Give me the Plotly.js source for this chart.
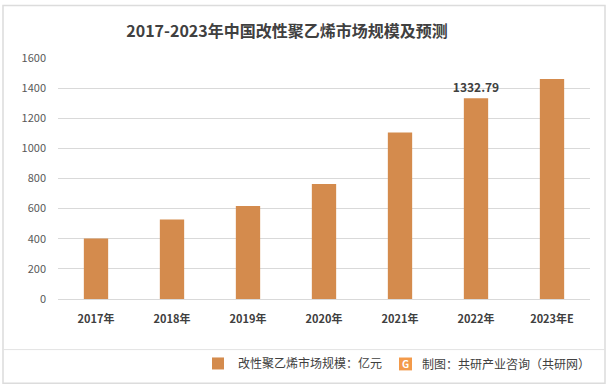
<!DOCTYPE html>
<html><head><meta charset="utf-8">
<script src="https://cdn.plot.ly/plotly-3.0.1.min.js"></script>
<style>html,body{margin:0;padding:0;background:#fff}</style>
</head><body><div id="chart" style="width:614px;height:390px"></div>
<script>
const categories = ["2017年","2018年","2019年","2020年","2021年","2022年","2023年E"];
const values = [401, 527, 618, 763, 1105, 1332.79, 1460];
const labels = ["", "", "", "", "", "1332.79", ""];
const seriesName = "改性聚乙烯市场规模：亿元";
const titleText = "2017-2023年中国改性聚乙烯市场规模及预测";
const sourceText = "制图：共研产业咨询（共研网）";

const W = 614, H = 390, L = 58, R = 24, T = 58, B = 89;
const pw = W - L - R, ph = H - T - B;
const px = x => (x - L) / pw;
const py = y => (H - B - y) / ph;
const font = "Noto Sans CJK SC, Microsoft YaHei, sans-serif";

Plotly.newPlot("chart", [{
  type: "bar", x: categories, y: values, name: seriesName,
  marker: {color: "#D48B4D"}, text: labels, textposition: "outside", constraintext: "none",
  textfont: {family: font, size: 12, color: "#404040", weight: "bold"},
  cliponaxis: false, hoverinfo: "none"
}], {
  width: W, height: H, margin: {l: L, r: R, t: T, b: B},
  paper_bgcolor: "#fff", plot_bgcolor: "#fff", bargap: 0.68,
  font: {family: font, color: "#595959"},
  title: {text: titleText, font: {family: font, size: 16, color: "#404040", weight: "bold"},
          x: 287 / W, xanchor: "center", y: 1 - 31 / H, yanchor: "middle"},
  xaxis: {tickfont: {size: 11, color: "#404040", weight: "bold"}, showline: true, linecolor: "#d9d9d9",
          ticks: "", ticklabelstandoff: 10, fixedrange: true},
  yaxis: {range: [0, 1600], dtick: 200, tickfont: {size: 11, color: "#595959"},
          gridcolor: "#d9d9d9", zeroline: false, showline: false, ticks: "", ticklabelstandoff: 11},
  showlegend: true,
  legend: {orientation: "h", x: px(198), xanchor: "left", y: py(366), yanchor: "middle",
           font: {family: font, size: 12, color: "#404040"}, itemwidth: 30, bgcolor: "rgba(0,0,0,0)"},
  shapes: [
    {type: "rect", xref: "paper", yref: "paper", x0: px(3), x1: px(605), y0: py(386), y1: py(5),
     line: {color: "#dcdcdc", width: 1.5}, fillcolor: "rgba(0,0,0,0)"},
    {type: "line", xref: "paper", yref: "paper", x0: px(3), x1: px(605), y0: py(352), y1: py(352),
     line: {color: "#e3e3e3", width: 1}},
    {type: "rect", xref: "paper", yref: "paper", x0: px(399), x1: px(412), y0: py(373), y1: py(360),
     line: {width: 0}, fillcolor: "#F39A4A"}
  ],
  annotations: [
    {xref: "paper", yref: "paper", x: px(405.5), y: py(366.5), text: "G", showarrow: false,
     font: {family: font, size: 10, color: "#fff", weight: "bold"}, xanchor: "center", yanchor: "middle"},
    {xref: "paper", yref: "paper", x: px(420), y: py(366), text: sourceText, showarrow: false,
     font: {family: font, size: 12, color: "#404040"}, xanchor: "left", yanchor: "middle"}
  ]
}, {displayModeBar: false, staticPlot: true});
</script></body></html>
